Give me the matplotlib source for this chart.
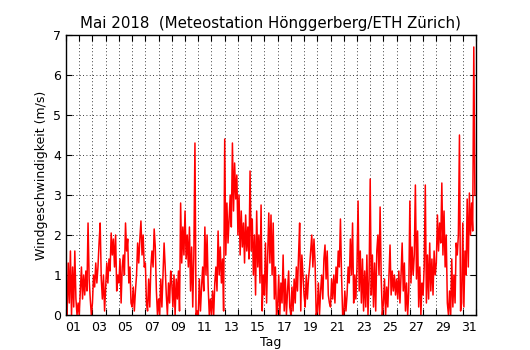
import numpy as np
import matplotlib
matplotlib.use("Agg")
import matplotlib.pyplot as plt
from matplotlib.ticker import FixedLocator, NullFormatter, FixedFormatter

# Wind speed (m/s), May 2018, one value every 2 hours (12 per day)
speed = [
    0.5, 0.0, 1.3, 0.3, 1.6, 0.0, 1.2, 0.2, 1.6, 0.4, 0.0, 0.3,   # 01
    0.0, 0.6, 1.2, 0.4, 1.0, 0.5, 1.1, 0.6, 2.3, 0.9, 0.4, 0.0,   # 02
    0.3, 1.0, 0.7, 1.3, 0.8, 1.2, 1.8, 2.3, 0.9, 0.4, 1.0, 0.1,   # 03
    0.7, 1.3, 0.8, 1.4, 1.1, 2.05, 1.5, 1.9, 1.2, 2.0, 0.6, 1.0,  # 04
    0.8, 1.4, 0.3, 1.2, 1.5, 1.0, 2.3, 1.6, 1.9, 0.8, 1.2, 0.3,   # 05
    0.2, 0.7, 0.1, 0.6, 1.0, 1.8, 1.3, 1.9, 2.35, 1.5, 2.0, 1.2,  # 06
    1.3, 0.3, 0.1, 0.9, 0.2, 1.2, 1.6, 1.2, 2.15, 1.7, 0.6, 0.0,  # 07
    0.4, 0.0, 0.9, 0.2, 1.0, 1.8, 1.2, 0.5, 0.0, 0.8, 0.3, 1.1,   # 08
    0.8, 0.2, 1.0, 0.0, 0.9, 0.4, 1.1, 0.1, 2.8, 1.3, 2.2, 1.5,   # 09
    2.6, 1.4, 2.0, 1.2, 2.2, 0.6, 1.7, 0.2, 1.5, 4.3, 0.0, 0.1,   # 10
    0.0, 0.9, 0.1, 0.7, 1.2, 0.6, 2.2, 1.0, 2.0, 0.7, 0.0, 0.4,   # 11
    0.0, 0.6, 0.0, 0.8, 1.2, 0.6, 2.1, 1.0, 1.7, 0.8, 1.4, 0.1,   # 12
    4.4, 1.5, 2.8, 1.8, 2.4, 3.0, 2.2, 4.3, 2.6, 3.8, 2.9, 3.5,   # 13
    2.0, 3.0, 1.5, 2.6, 1.7, 2.3, 1.3, 2.5, 1.6, 2.2, 1.4, 3.6,   # 14
    1.6, 2.4, 1.0, 2.0, 0.5, 2.6, 1.2, 2.0, 0.8, 2.75, 0.1, 1.0,  # 15
    0.5, 1.8, 0.3, 1.5, 2.55, 1.3, 2.5, 1.0, 2.3, 0.4, 1.2, 0.0,  # 16
    0.2, 1.0, 0.0, 0.8, 0.3, 1.5, 0.1, 0.9, 0.0, 0.6, 1.1, 0.2,   # 17
    0.0, 0.7, 0.1, 0.9, 0.3, 1.2, 0.6, 1.5, 2.3, 0.1, 1.5, 1.0,   # 18
    0.5, 0.2, 1.0, 0.4, 0.9, 1.2, 1.6, 2.0, 1.2, 1.9, 1.3, 0.0,   # 19
    0.1, 0.8, 0.0, 0.6, 1.0, 0.4, 1.4, 1.75, 0.9, 1.6, 0.5, 0.3,  # 20
    0.2, 0.9, 0.4, 1.0, 0.3, 1.2, 0.8, 1.6, 1.2, 2.4, 1.0, 0.0,   # 21
    0.0, 0.6, 0.1, 0.5, 1.2, 0.8, 1.9, 1.0, 2.3, 0.3, 1.0, 0.4,   # 22
    1.2, 2.85, 0.6, 1.6, 0.3, 1.4, 0.1, 1.1, 0.2, 1.5, 0.0, 0.9,  # 23
    3.4, 0.5, 1.5, 0.2, 1.3, 0.1, 1.6, 2.0, 1.0, 2.7, 0.9, 0.0,   # 24
    0.3, 0.9, 0.0, 0.7, 0.2, 1.0, 1.75, 0.5, 1.1, 0.6, 1.0, 0.5,  # 25
    0.9, 0.4, 1.1, 0.3, 1.0, 1.8, 0.6, 1.3, 0.1, 0.8, 0.0, 0.6,   # 26
    2.85, 0.8, 1.7, 1.0, 1.5, 3.25, 0.9, 2.1, 0.2, 1.2, 0.0, 0.8, # 27
    0.5, 1.2, 3.25, 0.3, 1.5, 0.4, 1.8, 0.6, 1.4, 0.5, 1.6, 1.0,  # 28
    1.3, 2.5, 1.6, 2.3, 1.8, 3.3, 1.5, 2.6, 1.2, 2.0, 0.3, 0.0,   # 29
    0.6, 0.0, 1.4, 0.2, 1.0, 0.3, 1.8, 1.5, 2.0, 4.5, 0.1, 0.3,   # 30
    2.3, 0.2, 1.6, 1.0, 2.9, 1.2, 3.05, 2.0, 2.8, 2.1, 6.7, 3.0,  # 31
]
samples_per_day = 12
day_labels = ["01", "03", "05", "07", "09", "11", "13", "15",
              "17", "19", "21", "23", "25", "27", "29", "31"]
y_ticks = [0, 1, 2, 3, 4, 5, 6, 7]

title = "Mai 2018  (Meteostation Hönggerberg/ETH Zürich)"

t = np.arange(len(speed)) / samples_per_day  # days since 1 May 00:00

fig = plt.figure(figsize=(5.3, 3.5), dpi=100)
ax = fig.add_axes([66 / 530, 1 - 315 / 350, 410 / 530, 280 / 350])
ax.plot(t, speed, color="red", linewidth=1.1)

ax.set_xlim(0, 31)
ax.set_ylim(0, 7)

# day boundaries: ticks + grid
ax.xaxis.set_major_locator(FixedLocator(np.arange(0, 32)))
ax.xaxis.set_major_formatter(NullFormatter())
# labels at noon of odd days
ax.xaxis.set_minor_locator(FixedLocator([int(d) - 0.5 for d in day_labels]))
ax.xaxis.set_minor_formatter(FixedFormatter(day_labels))
ax.set_yticks(y_ticks)

ax.tick_params(axis="both", which="major", direction="in", top=True, right=True,
               length=4, width=0.8, labelsize=9)
ax.tick_params(axis="x", which="minor", length=0, labelsize=9, pad=4)
ax.grid(True, which="major", color="black", linestyle=(0, (1, 3)), linewidth=0.6)

for s in ax.spines.values():
    s.set_linewidth(1.0)
    s.set_color("black")

ax.set_xlabel("Tag", fontsize=9, labelpad=2)
ax.set_ylabel("Windgeschwindigkeit (m/s)", fontsize=9)
ax.set_title(title, fontsize=10.8, pad=5)

fig.savefig("out.png", dpi=100)
